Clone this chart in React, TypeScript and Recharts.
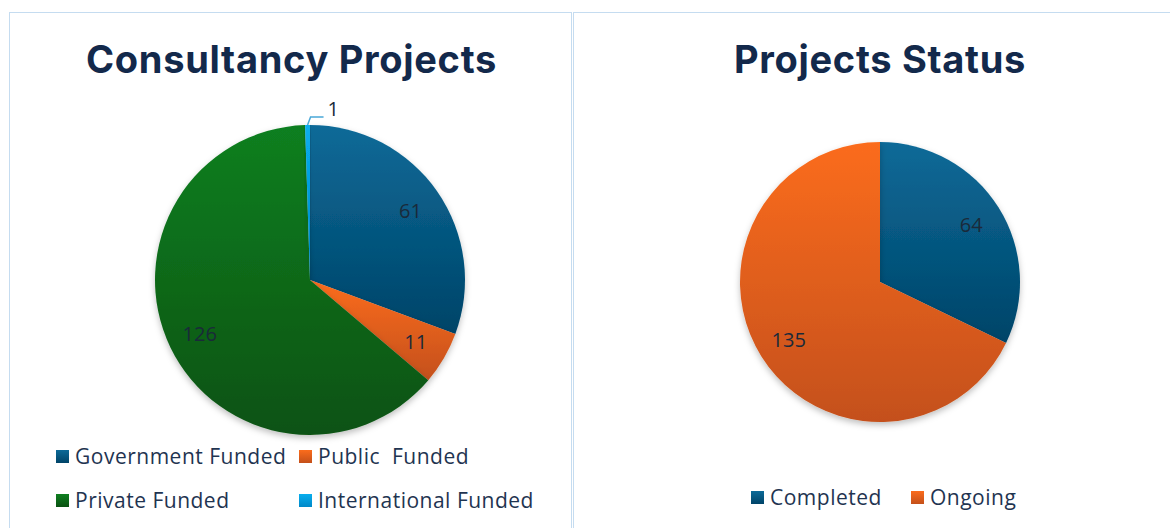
import React from "react";
import { PieChart, Pie, Cell, Legend } from "recharts";

// Consultancy projects by funding source
const fundingNames = ["Government Funded", "Public  Funded", "Private Funded", "International Funded"];
const fundingValues = [61, 11, 126, 1];

// Project status
const statusNames = ["Completed", "Ongoing"];
const statusValues = [64, 135];

const GRADS: Record<string, [string, string]> = {
  blue: ["#0c6a98", "#004468"],
  orange: ["#fb6c1c", "#c4501a"],
  green: ["#0f7f20", "#0a5212"],
  sky: ["#08aeee", "#0088c8"],
};

const fundingColors = ["blue", "orange", "green", "sky"];
const statusColors = ["blue", "orange"];

const fundingData = fundingNames.map((name, i) => ({ name, value: fundingValues[i], color: fundingColors[i] }));
const statusData = statusNames.map((name, i) => ({ name, value: statusValues[i], color: statusColors[i] }));

const TEXT = "#13294b";
const FONT = "'Open Sans', sans-serif";
const RAD = Math.PI / 180;

function Defs({ id }: { id: string }) {
  return (
    <defs>
      {Object.keys(GRADS).map((k) => (
        <linearGradient key={k} id={`${id}-${k}`} x1="0" y1="0" x2="0" y2="1">
          <stop offset="0%" stopColor={GRADS[k][0]} />
          <stop offset="100%" stopColor={GRADS[k][1]} />
        </linearGradient>
      ))}
      <filter id={`${id}-shadow`} x="-10%" y="-10%" width="120%" height="125%">
        <feDropShadow dx="0" dy="3" stdDeviation="3" floodColor="#000" floodOpacity="0.25" />
      </filter>
    </defs>
  );
}

function makeLabel(ratio: number) {
  return (props: any) => {
    const { cx, cy, midAngle, outerRadius, value } = props;
    if (value < 3) {
      // tiny slice: leader line out to the top right
      const sx = cx + outerRadius * Math.cos(-midAngle * RAD);
      const sy = cy + outerRadius * Math.sin(-midAngle * RAD);
      const ey = sy - 8;
      return (
        <g>
          <polyline points={`${sx},${sy} ${sx + 3},${ey} ${sx + 16},${ey}`} fill="none" stroke="#4aa8d8" strokeWidth={1.5} />
          <text x={sx + 20} y={ey - 9} fill="#1a2a3a" fontSize={20} fontFamily={FONT} dominantBaseline="central">
            {value}
          </text>
        </g>
      );
    }
    const r = outerRadius * ratio;
    const x = cx + r * Math.cos(-midAngle * RAD);
    const y = cy + r * Math.sin(-midAngle * RAD);
    return (
      <text x={x} y={y} fill="#1a2a3a" fontSize={20} fontFamily={FONT} textAnchor="middle" dominantBaseline="central">
        {value}
      </text>
    );
  };
}

function LegendGrid({ items, cols, colX, rowY }: any) {
  return (
    <div style={{ position: "relative", width: "100%", height: 100 }}>
      {items.map((d: any, i: number) => {
        const col = i % cols;
        const row = Math.floor(i / cols);
        return (
          <div
            key={d.name}
            style={{
              position: "absolute",
              left: colX[col],
              top: rowY[row],
              display: "flex",
              alignItems: "center",
              fontFamily: FONT,
              fontSize: 21,
              letterSpacing: 0.5,
              color: "#1f3451",
              whiteSpace: "pre",
              lineHeight: "24px",
            }}
          >
            <span
              style={{
                display: "inline-block",
                width: 13,
                height: 13,
                marginRight: 6,
                background: `linear-gradient(${GRADS[d.color][0]}, ${GRADS[d.color][1]})`,
              }}
            />
            {d.name}
          </div>
        );
      })}
    </div>
  );
}

function Panel({ left, width, title, data, id, cx, cy, r, opts }: any) {
  return (
    <div
      style={{
        position: "absolute",
        left,
        top: 12,
        width,
        height: 530,
        border: "1.5px solid #c5dcf0",
        boxSizing: "border-box",
        background: "#fff",
      }}
    >
      <div
        style={{
          position: "absolute",
          left: 0,
          top: 22,
          width: opts.titleW,
          textAlign: "center",
          fontFamily: "Inter, sans-serif",
          fontWeight: 700,
          fontSize: 38,
          letterSpacing: 0.7,
          color: TEXT,
          lineHeight: "48px",
        }}
      >
        {title}
      </div>
      <PieChart width={width - 3} height={515} margin={{ top: 0, right: 0, bottom: 0, left: 0 }}>
        <Defs id={id} />
        <Pie
          data={data}
          dataKey="value"
          nameKey="name"
          cx={cx}
          cy={cy}
          outerRadius={r}
          startAngle={90}
          endAngle={-270}
          stroke="none"
          label={makeLabel(opts.ratio)}
          labelLine={false}
          isAnimationActive={false}
          style={{ filter: `url(#${id}-shadow)` }}
        >
          {data.map((d: any) => (
            <Cell key={d.name} fill={`url(#${id}-${d.color})`} />
          ))}
        </Pie>
        <Legend
          verticalAlign="bottom"
          wrapperStyle={{ left: 0, top: opts.top, width: width - 3 }}
          content={() => <LegendGrid items={data} cols={opts.cols} colX={opts.colX} rowY={opts.rowY} />}
        />
      </PieChart>
    </div>
  );
}

export default function App() {
  return (
    <div style={{ position: "absolute", left: 0, top: 0, width: 1170, height: 528, overflow: "hidden", background: "#fff" }}>
      <Panel
        left={9}
        width={563}
        title="Consultancy Projects"
        data={fundingData}
        id="fund"
        cx={300}
        cy={267}
        r={155}
        opts={{ top: 431, cols: 2, colX: [46, 289], rowY: [0, 44], titleW: 563, ratio: 0.79 }}
      />
      <Panel
        left={573}
        width={610}
        title="Projects Status"
        data={statusData}
        id="stat"
        cx={306}
        cy={269}
        r={140}
        opts={{ top: 472, cols: 2, colX: [177, 337], rowY: [0], titleW: 612, ratio: 0.77 }}
      />
    </div>
  );
}
